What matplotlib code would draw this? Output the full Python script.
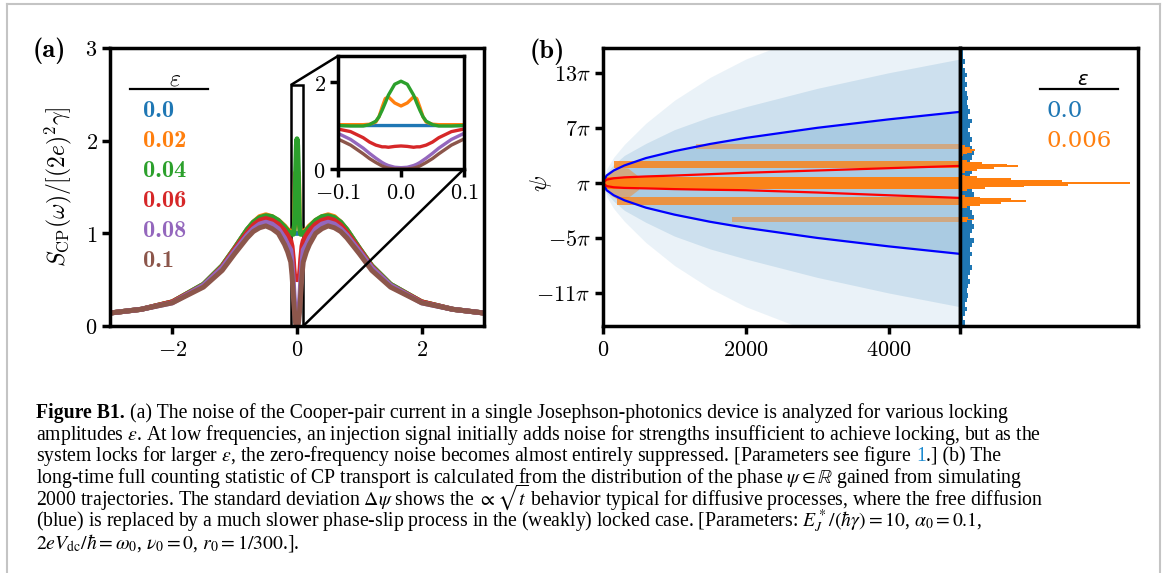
import numpy as np
import matplotlib
matplotlib.use("Agg")
import matplotlib.pyplot as plt
from matplotlib.lines import Line2D
from mpl_toolkits.axes_grid1.inset_locator import mark_inset

plt.rcParams['mathtext.fontset'] = 'cm'
plt.rcParams['font.family'] = 'serif'
plt.rcParams['font.serif'] = ['DejaVu Serif']

# ---------------- data: panel (a), noise spectra (symmetric in omega) ----------------
eps_labels = ['0.0', '0.02', '0.04', '0.06', '0.08', '0.1']
omega_half = [0, 0.01, 0.02, 0.025, 0.03, 0.035, 0.04, 0.05, 0.06, 0.08, 0.1,
              0.15, 0.2, 0.3, 0.4, 0.5, 0.6, 0.7, 0.8, 1.0, 1.2, 1.5, 2.0, 2.5, 3.0]
S_eps000 = [1.0, 1.0, 1.0, 1.0, 1.0, 1.0, 1.0, 1.0, 1.0, 1.0, 1.0,
            1.03, 1.07, 1.13, 1.17, 1.19, 1.17, 1.12, 1.04, 0.84, 0.65, 0.45, 0.26, 0.18, 0.14]
S_eps002 = [1.45, 1.52, 1.66, 1.62, 1.42, 1.2, 1.08, 1.03, 1.02, 1.02, 1.02,
            1.04, 1.08, 1.14, 1.18, 1.2, 1.18, 1.12, 1.04, 0.84, 0.65, 0.45, 0.26, 0.18, 0.14]
S_eps004 = [2.02, 1.95, 1.7, 1.52, 1.35, 1.2, 1.1, 1.02, 0.99, 0.99, 1.0,
            1.03, 1.07, 1.14, 1.18, 1.19, 1.17, 1.12, 1.04, 0.84, 0.65, 0.45, 0.26, 0.18, 0.14]
S_eps006 = [0.53, 0.52, 0.5, 0.51, 0.51, 0.53, 0.55, 0.62, 0.72, 0.86, 0.92,
            0.98, 1.03, 1.1, 1.14, 1.16, 1.14, 1.09, 1.01, 0.83, 0.64, 0.44, 0.26, 0.18, 0.14]
S_eps008 = [0.03, 0.04, 0.08, 0.11, 0.15, 0.2, 0.25, 0.36, 0.48, 0.68, 0.82,
            0.88, 0.95, 1.05, 1.1, 1.12, 1.1, 1.05, 0.98, 0.81, 0.63, 0.44, 0.25, 0.18, 0.14]
S_eps010 = [0.0, 0.0, 0.02, 0.04, 0.07, 0.11, 0.15, 0.24, 0.35, 0.55, 0.69,
            0.8, 0.88, 1.0, 1.05, 1.08, 1.06, 1.02, 0.95, 0.78, 0.6, 0.42, 0.25, 0.18, 0.14]
spectra = [S_eps000, S_eps002, S_eps004, S_eps006, S_eps008, S_eps010]
colors_a = ['#1f77b4', '#ff7f0e', '#2ca02c', '#d62728', '#9467bd', '#8c564b']

# ---------------- data: panel (b), phase diffusion (units of pi) ----------------
t_pts = [0, 50, 150, 300, 600, 1000, 1500, 2000, 3000, 4000, 5000]
cloud_inner = [0, 0.8, 1.4, 2.0, 2.7, 3.5, 4.3, 4.9, 6.0, 6.9, 7.7]
cloud_mid = [0, 1.1, 2.0, 3.0, 4.3, 5.8, 7.2, 8.3, 10.3, 12.0, 13.5]
cloud_outer = [0, 1.5, 2.8, 4.2, 6.5, 9.0, 11.5, 13.5, 16.5, 19.0, 21.0]
std_free_up = [0, 0.8, 1.35, 1.9, 2.7, 3.46, 4.24, 4.9, 6.0, 6.92, 7.74]
std_free_lo = [0, -0.8, -1.35, -1.9, -2.7, -3.46, -4.24, -4.9, -6.0, -6.92, -7.74]
std_lock_up = [0, 0.35, 0.5, 0.6, 0.7, 0.8, 0.95, 1.1, 1.35, 1.6, 1.85]
std_lock_lo = [0, -0.35, -0.48, -0.55, -0.6, -0.68, -0.75, -0.8, -1.05, -1.35, -1.64]
fan_t = [0, 100, 200, 350, 500]             # early locked spread around pi
fan_halfw = [0, 1.3, 1.8, 1.6, 0.7]
band_center = [1, 3, -1, 5, -3]             # locked phase plateaus
band_start = [0, 150, 200, 1300, 1800]
band_halfw = [0.65, 0.42, 0.42, 0.28, 0.28]
band_alpha = [0.95, 0.8, 0.75, 0.45, 0.45]

hist_free = [0.02, 0.03, 0.02, 0.03, 0.04, 0.03, 0.04, 0.05, 0.04, 0.05, 0.06, 0.05, 0.06,
             0.07, 0.06, 0.06, 0.07, 0.06, 0.07, 0.08, 0.06, 0.07, 0.08, 0.07, 0.08, 0.07,
             0.06, 0.08, 0.07, 0.08, 0.07, 0.08, 0.07, 0.06, 0.07, 0.08, 0.06, 0.07, 0.08,
             0.07, 0.06, 0.07, 0.06, 0.05, 0.06, 0.07, 0.05, 0.06, 0.05, 0.04, 0.05, 0.04,
             0.03, 0.04, 0.03, 0.04, 0.03, 0.02, 0.03, 0.02, 0.02, 0.02]
hist_free_start = -15.0
hist_free_bin = 0.5
hist_lock = [0, 0, 0, 0.01, 0.04, 0.08, 0.05, 0.01, 0, 0, 0, 0.01, 0.04, 0.12, 0.24, 0.39,
             0.3, 0.12, 0.03, 0.01, 0.01, 0.04, 0.15, 0.38, 0.64, 1.0, 0.6, 0.3, 0.1, 0.03,
             0.01, 0.03, 0.1, 0.2, 0.34, 0.28, 0.13, 0.04, 0.01, 0.01, 0.02, 0.04, 0.07, 0.09,
             0.06, 0.03, 0.01, 0, 0, 0, 0]
hist_lock_start = -4.0
hist_lock_bin = 0.2

# ---------------- figure ----------------
W, H = 1167, 573
fig = plt.figure(figsize=(W / 100, H / 100), dpi=100)


def box(l, t, r, b):
    return [l / W, 1 - b / H, (r - l) / W, (b - t) / H]


def fx(x):
    return x / W


def fy(y):
    return 1 - y / H


SPW = 2.5
FS = 16


def style(ax):
    for s in ax.spines.values():
        s.set_linewidth(SPW)
    ax.tick_params(direction='out', length=6, width=SPW, labelsize=FS, pad=3)


# panel (a)
ax_a = fig.add_axes(box(110, 48, 484, 326))
style(ax_a)
om_full = [-w for w in omega_half[::-1]] + omega_half[1:]
for S, c in zip(spectra, colors_a):
    ax_a.plot(om_full, S[::-1] + S[1:], color=c, lw=3.6, solid_capstyle='round')
ax_a.set_xlim(-3, 3)
ax_a.set_ylim(0, 3)
ax_a.set_xticks([-2, 0, 2], [r'$-2$', r'$0$', r'$2$'])
ax_a.set_yticks([0, 1, 2, 3], [r'$0$', r'$1$', r'$2$', r'$3$'])

ax_in = fig.add_axes(box(338, 56, 464, 169))
style(ax_in)
for S, c in zip(spectra, colors_a):
    ax_in.plot(om_full, S[::-1] + S[1:], color=c, lw=2.4)
ax_in.set_xlim(-0.1, 0.1)
ax_in.set_ylim(0, 2.6)
ax_in.set_xticks([-0.1, 0.0, 0.1], [r'$-0.1$', r'$0.0$', r'$0.1$'])
ax_in.set_yticks([0, 2], [r'$0$', r'$2$'])
mark_inset(ax_a, ax_in, loc1=2, loc2=4, fc='none', ec='k', lw=1.8)

fig.text(fx(33), fy(57), '(a)', family='cmb10', fontsize=19, va='baseline')
fig.text(fx(58), fy(187), r'$S_{\rm CP}(\omega)/[(2e)^2\gamma]$', fontsize=17,
         rotation=90, ha='center', va='center')

fig.text(fx(175), fy(85), r'$\varepsilon$', fontsize=17, ha='center', va='baseline')
fig.add_artist(Line2D([fx(130), fx(208)], [fy(89), fy(89)], color='k', lw=1.6))
for i, (lab, c) in enumerate(zip(eps_labels, colors_a)):
    fig.text(fx(143), fy(117 + 30 * i), lab, family='cmb10', color=c, fontsize=17.5,
             va='baseline')

# panel (b)
ax_b = fig.add_axes(box(603, 48, 960, 326))
style(ax_b)
t = np.array(t_pts)
pi = np.pi
for band, al in ((cloud_outer, 0.09), (cloud_mid, 0.14), (cloud_inner, 0.2)):
    b = np.array(band)
    ax_b.fill_between(t, (1 - b) * pi, (1 + b) * pi, color='#1f77b4', alpha=al, lw=0)
fw = np.array(fan_halfw)
ax_b.fill_between(fan_t, (1 - fw) * pi, (1 + fw) * pi, color='#ff7f0e', alpha=0.45, lw=0)
for c0, ts, hw, al in zip(band_center, band_start, band_halfw, band_alpha):
    tt = np.array([ts, 5000])
    ax_b.fill_between(tt, (c0 - hw) * pi, (c0 + hw) * pi, color='#ff7f0e', alpha=al, lw=0)
ax_b.plot(t, (1 + np.array(std_free_up)) * pi, color='blue', lw=1.6)
ax_b.plot(t, (1 + np.array(std_free_lo)) * pi, color='blue', lw=1.6)
ax_b.plot(t, (1 + np.array(std_lock_up)) * pi, color='red', lw=1.6)
ax_b.plot(t, (1 + np.array(std_lock_lo)) * pi, color='red', lw=1.6)
ax_b.set_xlim(0, 5000)
ylim_b = (-14.6 * pi, 15.7 * pi)
ax_b.set_ylim(*ylim_b)
ax_b.set_xticks([0, 2000, 4000], [r'$0$', r'$2000$', r'$4000$'])
ax_b.set_yticks([13 * pi, 7 * pi, pi, -5 * pi, -11 * pi],
                [r'$13\pi$', r'$7\pi$', r'$\pi$', r'$-5\pi$', r'$-11\pi$'])

ax_h = fig.add_axes(box(960, 48, 1138, 326))
style(ax_h)
nf = len(hist_free)
ax_h.barh((hist_free_start + hist_free_bin * (np.arange(nf) + 0.5)) * pi, hist_free,
          height=hist_free_bin * pi, color='#1f77b4', lw=0)
nl = len(hist_lock)
ax_h.barh((hist_lock_start + hist_lock_bin * np.arange(nl)) * pi, hist_lock,
          height=hist_lock_bin * pi, color='#ff7f0e', lw=0)
ax_h.set_ylim(*ylim_b)
ax_h.set_xlim(0, 1.05)
ax_h.set_yticks([])
ax_h.set_xticks([0], [''])

fig.text(fx(530), fy(58), '(b)', family='cmb10', fontsize=19, va='baseline')
fig.text(fx(541), fy(183), r'$\psi$', fontsize=17, rotation=90, ha='center', va='center')
fig.text(fx(1083), fy(85), r'$\varepsilon$', fontsize=14, ha='center', va='baseline',
         math_fontfamily='dejavusans')
fig.add_artist(Line2D([fx(1040), fx(1118)], [fy(89), fy(89)], color='k', lw=1.6))
fig.text(fx(1047), fy(117), '0.0', color='#1f77b4', family='DejaVu Serif', fontsize=16.5,
         va='baseline')
fig.text(fx(1047), fy(147), '0.006', color='#ff7f0e', family='DejaVu Serif', fontsize=16.5,
         va='baseline')

# page frame
fc = '#c4c4c4'
fig.add_artist(Line2D([fx(7), fx(1160)], [fy(4), fy(4)], color=fc, lw=1.5))
fig.add_artist(Line2D([fx(7), fx(7)], [fy(4), 0], color=fc, lw=1.5))
fig.add_artist(Line2D([fx(1160), fx(1160)], [fy(4), 0], color=fc, lw=1.5))

# caption
CFS = 14.2
renderer = fig.canvas.get_renderer()
ckw = dict(fontsize=CFS, family='Liberation Serif', math_fontfamily='stix', va='baseline')


def width(s, **kw):
    tx = fig.text(0, 0, s, **{**ckw, **kw})
    w = tx.get_window_extent(renderer).width
    tx.remove()
    return w


space = width('x x') - width('xx')


def caption_line(y, parts):
    # parts: (text, style, space after)
    x = 36
    for s, kw, gap in parts:
        tx = fig.text(fx(x), fy(y), s, **{**ckw, **kw})
        x += tx.get_window_extent(renderer).width + (space if gap else 0)


caption = [
    [('Figure B1.', dict(weight='bold'), True),
     ('(a) The noise of the Cooper-pair current in a single Josephson-photonics device is analyzed for various locking', {}, False)],
    [(r'amplitudes $\varepsilon$. At low frequencies, an injection signal initially adds noise for strengths insufficient to achieve locking, but as the', {}, False)],
    [(r'system locks for larger $\varepsilon$, the zero-frequency noise becomes almost entirely suppressed. [Parameters see figure', {}, True),
     ('1', dict(color='#1a8ad0'), False),
     ('.] (b) The', {}, False)],
    [(r'long-time full counting statistic of CP transport is calculated from the distribution of the phase $\psi\in\mathbb{R}$ gained from simulating', {}, False)],
    [(r'2000 trajectories. The standard deviation $\Delta\psi$ shows the $\propto\sqrt{t}$ behavior typical for diffusive processes, where the free diffusion', {}, False)],
    [(r'(blue) is replaced by a much slower phase-slip process in the (weakly) locked case. [Parameters: $E_J^*/(\hbar\gamma)=10$, $\alpha_0=0.1$,', {}, False)],
    [(r'$2eV_{\rm dc}/\hbar=\omega_0$, $\nu_0=0$, $r_0=1/300$.].', {}, False)],
]
for k, parts in enumerate(caption):
    caption_line(418 + 21.7 * k, parts)

fig.savefig('out.png', dpi=100)
